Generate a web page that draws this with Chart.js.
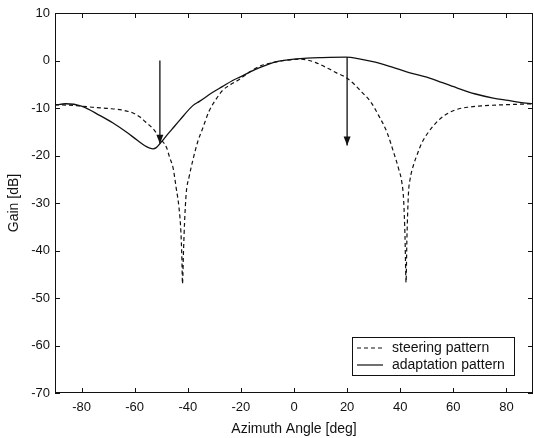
<!DOCTYPE html>
<html>
<head>
<meta charset="utf-8">
<script src="https://cdn.jsdelivr.net/npm/chart.js@4/dist/chart.umd.min.js"></script>
<style>
  html, body { margin: 0; padding: 0; background: #fff; }
  #wrap { width: 534px; height: 438px; }
</style>
</head>
<body>
<div id="wrap"><canvas id="pattern-chart" width="534" height="438"></canvas></div>
<script>
const steerAngles = [-90, -85, -80, -75, -70, -65, -60, -58, -56, -53, -50.5, -48, -46.9, -45.5, -44.4, -43.3, -42.6, -42.2, -42.0,
  -41.6, -41.2, -40.6, -39.5, -38.1, -36.2, -34.4, -32, -29.4, -26.9, -23.1, -20.6, -16.9, -13, -10, -5, 0, 2,
  5, 8, 13.1, 16, 19.4, 22.5, 25.6, 28.75, 31.9, 35, 37.5, 39.4, 40.6, 41.3, 41.8, 42.2,
  42.5, 43.1, 43.75, 45, 46.25, 48, 50.6, 54.4, 58, 61.9, 66, 71.9, 80, 90];
const steerGain = [-9.3, -9.4, -9.6, -9.9, -10.1, -10.4, -11.2, -11.9, -12.9, -14.4, -16.4, -18.3, -20.3, -22.7, -26.7, -31, -36, -42, -47,
  -40, -34, -28, -24.5, -21, -17, -14.3, -10.7, -8.2, -6.3, -4.8, -4.0, -2.5, -1.2, -0.7, -0.1, 0.2, 0.3,
  0.1, -0.4, -1.75, -2.6, -3.5, -4.9, -6.7, -8.6, -11.6, -15.1, -19.3, -22.8, -25.6, -29.5, -37, -46.7,
  -38, -28, -24.9, -22, -20, -17.5, -15.1, -12.6, -11.1, -10.2, -9.8, -9.5, -9.3, -9.1];

const adaptAngles = [-90, -86, -80, -73, -68, -63, -59, -56, -53.1, -52, -50, -48, -46, -43.1, -38.1, -35.6, -30.6, -27,
  -23.1, -20, -16.9, -12, -7, -3, 0, 5, 10, 19.4, 25, 30.6, 37, 43, 50, 55.6, 62, 68, 75, 80.6, 85, 90];
const adaptGain = [-9.4, -9.1, -9.6, -11.6, -13.2, -15.1, -16.8, -18.0, -18.6, -18.4, -17.2, -15.8, -14.5, -12.6, -9.5, -8.6, -6.7, -5.5,
  -4.2, -3.4, -2.5, -1.3, -0.3, 0.1, 0.3, 0.5, 0.6, 0.7, 0.3, -0.35, -1.4, -2.5, -3.5, -4.6, -5.9, -7.0, -7.9, -8.4, -8.8, -9.1];

// arrows: angle, start gain, tip gain
const arrowAngles = [-50.5, 20];
const arrowFrom = [0, 0.7];
const arrowTo = [-17.5, -17.9];

const xTicks = [-80, -60, -40, -20, 0, 20, 40, 60, 80];
const yTicks = [10, 0, -10, -20, -30, -40, -50, -60, -70];

const seriesLabels = ['steering pattern', 'adaptation pattern'];

const fontFamily = '"Liberation Sans", Arial, sans-serif';
const ink = '#111';

function toPoints(xs, ys) {
  return xs.map((x, i) => ({ x: x, y: ys[i] }));
}

const arrowSets = arrowAngles.map((a, i) => ({
  label: 'arrow' + i,
  data: [{ x: a, y: arrowFrom[i] }, { x: a, y: arrowTo[i] }],
  borderColor: ink,
  borderWidth: 1.3,
  pointRadius: 0,
  isArrow: true
}));

// inward ticks, frame, arrowheads and the boxed legend
const framePlugin = {
  id: 'frame',
  afterDatasetsDraw(chart) {
    const ctx = chart.ctx;
    const area = chart.chartArea;
    const xs = chart.scales.x;
    const ys = chart.scales.y;
    ctx.save();
    ctx.strokeStyle = ink;
    ctx.lineWidth = 1;
    ctx.strokeRect(area.left + 0.5, area.top + 0.5, area.right - area.left - 1, area.bottom - area.top - 1);
    const len = 5;
    ctx.beginPath();
    xTicks.forEach(v => {
      const px = Math.round(xs.getPixelForValue(v)) + 0.5;
      ctx.moveTo(px, area.bottom);
      ctx.lineTo(px, area.bottom - len);
      ctx.moveTo(px, area.top);
      ctx.lineTo(px, area.top + len);
    });
    yTicks.forEach(v => {
      const py = Math.round(ys.getPixelForValue(v)) + 0.5;
      ctx.moveTo(area.left, py);
      ctx.lineTo(area.left + len, py);
      ctx.moveTo(area.right, py);
      ctx.lineTo(area.right - len, py);
    });
    ctx.stroke();

    // arrowheads at the end of each arrow shaft
    chart.data.datasets.forEach((ds, i) => {
      if (!ds.isArrow) return;
      const pts = chart.getDatasetMeta(i).data;
      const tip = pts[pts.length - 1];
      ctx.fillStyle = ink;
      ctx.beginPath();
      ctx.moveTo(tip.x, tip.y);
      ctx.lineTo(tip.x - 3.5, tip.y - 9);
      ctx.lineTo(tip.x + 3.5, tip.y - 9);
      ctx.closePath();
      ctx.fill();
    });

    // legend box, lower right inside the axes
    const bw = 162, bh = 38;
    const bx = area.right - 19 - bw;
    const by = area.bottom - 18 - bh;
    ctx.fillStyle = '#fff';
    ctx.fillRect(bx, by, bw, bh);
    ctx.strokeStyle = ink;
    ctx.lineWidth = 1;
    ctx.strokeRect(bx + 0.5, by + 0.5, bw, bh);
    ctx.font = '14px ' + fontFamily;
    ctx.textBaseline = 'middle';
    ctx.fillStyle = ink;
    seriesLabels.forEach((lbl, i) => {
      const ly = by + 11 + i * 17;
      ctx.beginPath();
      ctx.setLineDash(i === 0 ? [4, 3] : []);
      ctx.lineWidth = 1.2;
      ctx.moveTo(bx + 5, ly);
      ctx.lineTo(bx + 31, ly);
      ctx.stroke();
      ctx.setLineDash([]);
      ctx.fillText(lbl, bx + 40, ly);
    });
    ctx.restore();
  }
};

const chart = new Chart(document.getElementById('pattern-chart').getContext('2d'), {
  type: 'line',
  data: {
    datasets: [
      {
        label: seriesLabels[0],
        data: toPoints(steerAngles, steerGain),
        borderColor: ink,
        borderWidth: 1.2,
        borderDash: [4, 3],
        pointRadius: 0,
        cubicInterpolationMode: 'monotone'
      },
      {
        label: seriesLabels[1],
        data: toPoints(adaptAngles, adaptGain),
        borderColor: ink,
        borderWidth: 1.3,
        pointRadius: 0,
        cubicInterpolationMode: 'monotone'
      },
      ...arrowSets
    ]
  },
  options: {
    responsive: false,
    animation: false,
    layout: { padding: { left: 0, right: 1, top: 13, bottom: 0 } },
    plugins: {
      legend: { display: false },
      tooltip: { enabled: false }
    },
    scales: {
      x: {
        type: 'linear',
        min: -90,
        max: 90,
        afterBuildTicks: scale => { scale.ticks = xTicks.map(v => ({ value: v })); },
        afterFit: scale => { scale.height = 45; },
        grid: { display: false, drawTicks: false },
        border: { display: false },
        ticks: { color: ink, font: { family: fontFamily, size: 13 }, padding: 7, maxRotation: 0 },
        title: { display: true, text: 'Azimuth Angle [deg]', color: ink, font: { family: fontFamily, size: 14 }, padding: { top: 0, bottom: 0 } }
      },
      y: {
        min: -70,
        max: 10,
        afterBuildTicks: scale => { scale.ticks = yTicks.map(v => ({ value: v })); },
        afterFit: scale => { scale.width = 55; },
        grid: { display: false, drawTicks: false },
        border: { display: false },
        ticks: { color: ink, font: { family: fontFamily, size: 13 }, padding: 5 },
        title: { display: true, text: 'Gain [dB]', color: ink, font: { family: fontFamily, size: 14 }, padding: { top: 6, bottom: 0 } }
      }
    }
  },
  plugins: [framePlugin]
});
</script>
</body>
</html>
